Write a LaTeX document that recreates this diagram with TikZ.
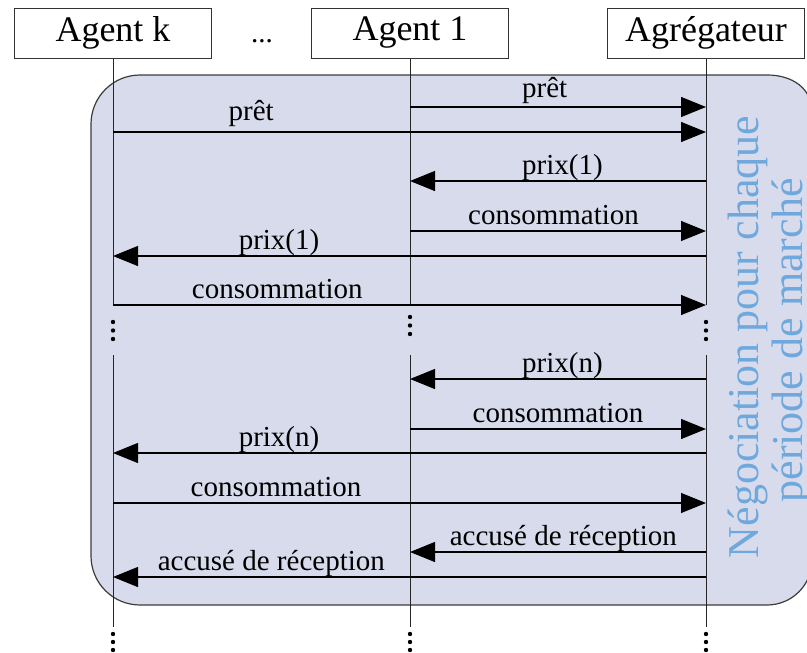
\documentclass[tikz,border=0pt]{standalone}
\usepackage{fontspec}
\setmainfont{Liberation Serif}
\usetikzlibrary{arrows.meta}
\definecolor{bgfill}{RGB}{216,219,236}
\definecolor{bgline}{RGB}{60,60,60}
\definecolor{notecol}{RGB}{111,168,220}
\begin{document}
\begin{tikzpicture}[x=1pt,y=-1pt,
  actor/.style={draw=black!80, line width=1pt, fill=white, minimum width=197pt,
    minimum height=50pt, inner sep=0pt, font=\fontsize{36}{40}\selectfont},
  life/.style={draw=black!85, line width=1pt},
  msg/.style={draw=black, line width=1.2pt, -{Triangle[length=25pt,width=20pt]}},
  lbl/.style={anchor=base, font=\fontsize{29}{32}\selectfont, inner sep=0pt, yshift=7pt},
  note/.style={rotate=90, anchor=base, text=notecol, inner sep=0pt,
    font=\fontsize{44}{48}\selectfont},
  dotr/.style={fill=black}]
\useasboundingbox (0,0) rectangle (807,653);

% shaded negotiation frame
\path[fill=bgfill, draw=bgline, line width=1.2pt]
  (91,124) .. controls (91,97) and (113,75) .. (140,75)
  -- (767,75) .. controls (792,75) and (812,88) .. (812,112)
  -- (812,560) .. controls (812,585) and (792,605) .. (767,605)
  -- (140,605) .. controls (113,605) and (91,583) .. (91,556) -- cycle;

% participants
\node[actor] (ak) at (113,33) {Agent k};
\node[actor] (a1) at (410,33) {Agent 1};
\node[actor] (ag) at (706,33) {Agrégateur};
\node[anchor=base, font=\fontsize{29}{32}\selectfont, inner sep=0pt] (etc) at (262,42) {...};

% lifelines
\foreach \p in {ak,a1,ag}{
  \draw[life] (\p.south) -- (\p.south |- 0,305);
  \draw[life] (\p.south |- 0,355) -- (\p.south |- 0,627);
  \foreach \y in {634,642,650}{\fill[dotr] (\p.south |- 0,\y) circle (2.2pt);}
}
\foreach \y in {322,330.5,339}{
  \fill[dotr] (ak.south |- 0,\y) circle (2.2pt);
  \fill[dotr] (ag.south |- 0,\y) circle (2.2pt);
}
\foreach \y in {317,325.5,334}{\fill[dotr] (a1.south |- 0,\y) circle (2.2pt);}

% messages, first round
\draw[msg] (a1.south |- 0,107) -- node[lbl, pos=.455, yshift=3pt] {prêt} (ag.south |- 0,107);
\draw[msg] (ak.south |- 0,132) -- node[lbl, pos=.233, yshift=5pt] {prêt} (ag.south |- 0,132);
\draw[msg] (ag.south |- 0,181) -- node[lbl, pos=.485] {prix(1)} (a1.south |- 0,181);
\draw[msg] (a1.south |- 0,231) -- node[lbl, pos=.485] {consommation} (ag.south |- 0,231);
\draw[msg] (ag.south |- 0,256) -- node[lbl, pos=.72] {prix(1)} (ak.south |- 0,256);
\draw[msg] (ak.south |- 0,305) -- node[lbl, pos=.277] {consommation} (ag.south |- 0,305);

% messages, round n
\draw[msg] (ag.south |- 0,379) -- node[lbl, pos=.485] {prix(n)} (a1.south |- 0,379);
\draw[msg] (a1.south |- 0,429) -- node[lbl, pos=.5] {consommation} (ag.south |- 0,429);
\draw[msg] (ag.south |- 0,453) -- node[lbl, pos=.72] {prix(n)} (ak.south |- 0,453);
\draw[msg] (ak.south |- 0,503) -- node[lbl, pos=.275] {consommation} (ag.south |- 0,503);
\draw[msg] (ag.south |- 0,552) -- node[lbl, pos=.482] {accusé de réception} (a1.south |- 0,552);
\draw[msg] (ag.south |- 0,577) -- node[lbl, pos=.733] {accusé de réception} (ak.south |- 0,577);

% frame caption
\node[note] (n1) at (758,337) {Négociation pour chaque};
\node[note] (n2) at (802,340) {période de marché};
\end{tikzpicture}
\end{document}
